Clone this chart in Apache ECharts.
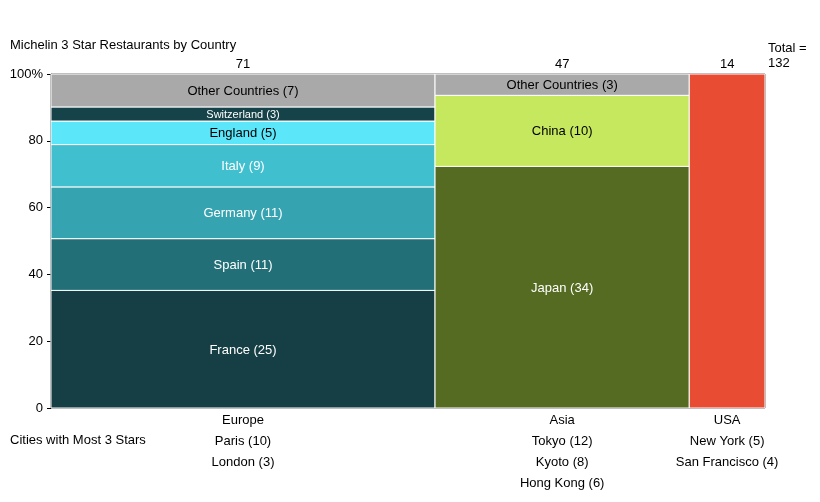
<!DOCTYPE html>
<html><head><meta charset="utf-8">
<script src="https://cdn.jsdelivr.net/npm/echarts@6/dist/echarts.min.js"></script>
<style>body{margin:0;background:#fff}#c{width:820px;height:502px}</style>
</head><body><div id="c"></div>
<script>
const regions = ['Europe', 'Asia', 'USA'];
const regionTotals = [71, 47, 14];
const segNames = [
  ['France', 'Spain', 'Germany', 'Italy', 'England', 'Switzerland', 'Other Countries'],
  ['Japan', 'China', 'Other Countries'],
  ['USA']
];
const segCounts = [
  [25, 11, 11, 9, 5, 3, 7],
  [34, 10, 3],
  [14]
];
const segColors = [
  ['#163f45', '#236f78', '#36a3b0', '#40bfcf', '#5ce6f9', '#164349', '#a9a9a9'],
  ['#566b22', '#c5e85e', '#a9a9a9'],
  ['#e84c33']
];
const cities = [
  ['Paris (10)', 'London (3)'],
  ['Tokyo (12)', 'Kyoto (8)', 'Hong Kong (6)'],
  ['New York (5)', 'San Francisco (4)']
];
const grandTotal = regionTotals.reduce((a, b) => a + b, 0);

const segs = [];
let x0 = 0;
regions.forEach((r, i) => {
  let y0 = 0;
  segNames[i].forEach((n, j) => {
    const h = segCounts[i][j] / regionTotals[i] * 100;
    segs.push([x0, x0 + regionTotals[i], y0, y0 + h, i, j]);
    y0 += h;
  });
  x0 += regionTotals[i];
});

const font = 'Liberation Sans, Arial, sans-serif';
const chart = echarts.init(document.getElementById('c'));
chart.setOption({
  animation: false,
  grid: { left: 51, right: 55, top: 74, bottom: 94, show: true, borderColor: '#000', borderWidth: 1 },
  xAxis: { type: 'value', min: 0, max: grandTotal, show: false },
  yAxis: {
    type: 'value', min: 0, max: 100, interval: 20,
    axisLine: { show: true, lineStyle: { color: '#000' } },
    axisTick: { show: true, length: 4, lineStyle: { color: '#000' } },
    splitLine: { show: false },
    axisLabel: { color: '#000', fontFamily: font, fontSize: 13, formatter: v => v === 100 ? '100%' : v }
  },
  graphic: [
    { type: 'text', left: 10, top: 39, style: { text: 'Michelin 3 Star Restaurants by Country', font: '13px ' + font, fill: '#000' } },
    { type: 'text', left: 768, top: 41, style: { text: 'Total =\n' + grandTotal, font: '13px ' + font, fill: '#000', lineHeight: 15 } },
    { type: 'text', left: 10, top: 434, style: { text: 'Cities with Most 3 Stars', font: '13px ' + font, fill: '#000' } }
  ],
  series: [{
    type: 'custom',
    data: segs,
    encode: { x: [0, 1], y: [2, 3] },
    renderItem: (params, api) => {
      const d = segs[params.dataIndex];
      const p0 = api.coord([d[0], d[2]]);
      const p1 = api.coord([d[1], d[3]]);
      const base = api.coord([d[0], 0]);
      const i = d[4], j = d[5];
      const h = p0[1] - p1[1];
      const fs = h < 16 ? 11 : 13;
      const c = segColors[i][j];
      const dark = c === '#a9a9a9' || c === '#5ce6f9' || c === '#c5e85e';
      const children = [{
        type: 'rect',
        shape: { x: p0[0], y: p1[1], width: p1[0] - p0[0], height: h },
        style: { fill: c, stroke: '#fff', lineWidth: 1 }
      }];
      if (i < 2) {
        children.push({
          type: 'text',
          style: {
            text: segNames[i][j] + ' (' + segCounts[i][j] + ')',
            x: (p0[0] + p1[0]) / 2, y: (p0[1] + p1[1]) / 2 + 1,
            align: 'center', verticalAlign: 'middle',
            font: fs + 'px ' + font, fill: dark ? '#000' : '#fff'
          }
        });
      }
      if (j === segNames[i].length - 1) {
        const cx = (p0[0] + p1[0]) / 2;
        children.push({ type: 'text', style: { text: String(regionTotals[i]), x: cx, y: p1[1] - 3, align: 'center', verticalAlign: 'bottom', font: '13px ' + font, fill: '#000' } });
        children.push({ type: 'text', style: { text: regions[i], x: cx, y: base[1] + 12, align: 'center', verticalAlign: 'middle', font: '13px ' + font, fill: '#000' } });
        cities[i].forEach((ct, k) => {
          children.push({ type: 'text', style: { text: ct, x: cx, y: base[1] + 33 + 21 * k, align: 'center', verticalAlign: 'middle', font: '13px ' + font, fill: '#000' } });
        });
      }
      return { type: 'group', children };
    }
  }]
});
</script></body></html>
